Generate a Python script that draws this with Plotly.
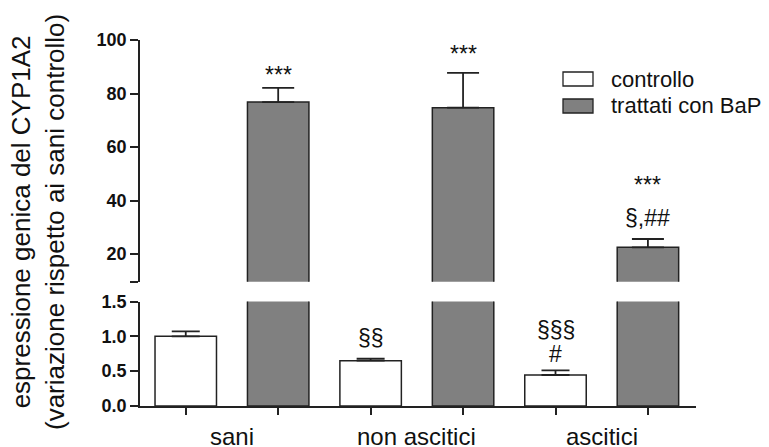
import plotly.graph_objects as go

# ---- data ----
categories = ["sani", "non ascitici", "ascitici"]
series_names = ["controllo", "trattati con BaP"]
controllo = [1.0, 0.65, 0.445]
controllo_err = [0.07, 0.03, 0.065]
trattati = [76.8, 74.7, 22.5]
trattati_err = [5.3, 13.0, 3.1]
lower_ticks = [0.0, 0.5, 1.0, 1.5]
upper_ticks = [20, 40, 60, 80, 100]
# significance marks: (group index, series index, text, value on axis)
marks_upper = [(0, 1, "***", 86.9), (1, 1, "***", 94.8), (2, 1, "***", 45.8), (2, 1, "§,##", 33.5)]
marks_lower = [(1, 0, "§§", 0.98), (2, 0, "§§§", 1.09), (2, 0, "#", 0.75)]

FONT = "Liberation Sans, Arial, sans-serif"
LINE = "#222222"
GRAY = "#808080"
OFF = 8  # page body margin
W, H = 769 - OFF, 447 - OFF
# target positions in page pixels
P_LEFT, P_RIGHT, P_TOP, P_BOT = 140, 696, 40, 406
ML, MR, MT = P_LEFT - OFF, 769 - P_RIGHT, P_TOP - OFF
MB = H - (P_BOT - OFF)
PW, PH = W - ML - MR, H - MT - MB

def px_x(p):
    return (p - OFF - ML) / PW

def px_y(p):
    return (P_BOT - p) / PH

x_ctrl = [2 * i for i in range(len(categories))]
x_trat = [2 * i + 1 for i in range(len(categories))]
BW = 0.665

fig = go.Figure()
fig.add_trace(go.Bar(x=x_ctrl, y=controllo, width=BW, xaxis="x", yaxis="y",
                     marker=dict(color="white", line=dict(color=LINE, width=1.5)),
                     error_y=dict(type="data", array=controllo_err, arrayminus=[0] * 3, symmetric=False,
                                  color=LINE, thickness=1.8, width=14),
                     name=series_names[0], showlegend=False))
fig.add_trace(go.Bar(x=x_trat, y=trattati, width=BW, xaxis="x", yaxis="y",
                     marker=dict(color=GRAY, line=dict(color=LINE, width=1.5)),
                     name=series_names[1], showlegend=False))
fig.add_trace(go.Bar(x=x_trat, y=trattati, width=BW, xaxis="x", yaxis="y2",
                     marker=dict(color=GRAY, line=dict(color=LINE, width=1.5)),
                     error_y=dict(type="data", array=trattati_err, arrayminus=[0] * 3, symmetric=False,
                                  color=LINE, thickness=1.8, width=16),
                     name=series_names[1], showlegend=False))

lower_top_px, upper_bot_px = 301.5, 281.7
upper_min = 100 - (upper_bot_px - P_TOP) / ((254 - P_TOP) / 80)

axis_common = dict(showline=True, linecolor=LINE, linewidth=1.5, ticks="outside",
                   tickcolor=LINE, tickwidth=1.5, ticklen=8, showgrid=False, zeroline=False,
                   tickfont=dict(family=FONT, size=18, color="#111", weight="bold"))

fig.update_layout(
    width=W, height=H, margin=dict(l=ML, r=MR, t=MT, b=MB),
    paper_bgcolor="white", plot_bgcolor="white",
    barmode="overlay", showlegend=False,
    xaxis=dict(range=[-0.495, 5.52], tickvals=x_ctrl + x_trat, showticklabels=False,
               showline=True, linecolor=LINE, linewidth=1.5, ticks="outside", tickcolor=LINE,
               tickwidth=1.5, ticklen=7, showgrid=False, zeroline=False, anchor="y"),
    yaxis=dict(domain=[0, px_y(lower_top_px)], range=[0, 1.5], tickvals=lower_ticks,
               ticktext=[f"{v:.1f}" for v in lower_ticks], anchor="x", **axis_common),
    yaxis2=dict(domain=[px_y(upper_bot_px), 1], range=[upper_min, 100],
                tickvals=[upper_min + 0.05] + upper_ticks,
                ticktext=[""] + [str(v) for v in upper_ticks], anchor="x", **axis_common),
)

ann = []
for gi, si, txt, val in marks_upper:
    ann.append(dict(x=2 * gi + si, y=val, xref="x", yref="y2", text=txt, showarrow=False,
                    font=dict(family=FONT, size=23, color="#111")))
for gi, si, txt, val in marks_lower:
    ann.append(dict(x=2 * gi + si, y=val, xref="x", yref="y", text=txt, showarrow=False,
                    font=dict(family=FONT, size=23, color="#111")))
for i, c in enumerate(categories):
    ann.append(dict(x=2 * i + 0.5, y=0, xref="x", yref="paper", yanchor="middle", yshift=-30,
                    text=c, showarrow=False, font=dict(family=FONT, size=24, color="#111")))
ann.append(dict(x=px_x(38), y=px_y(222), xref="paper", yref="paper", textangle=-90,
                xanchor="center", yanchor="middle",
                text="espressione genica del CYP1A2<br>(variazione rispetto ai sani controllo)",
                showarrow=False, font=dict(family=FONT, size=26, color="#111")))
shapes = []
leg_fills = ["white", GRAY]
leg_y = [79, 106]
for name, fill, cy in zip(series_names, leg_fills, leg_y):
    shapes.append(dict(type="rect", xref="paper", yref="paper",
                       x0=px_x(563), x1=px_x(593), y0=px_y(cy - 7), y1=px_y(cy + 7),
                       fillcolor=fill, line=dict(color=LINE, width=1.3)))
    ann.append(dict(x=px_x(609), y=px_y(cy), xref="paper", yref="paper", xanchor="left",
                    yanchor="middle", text=name, showarrow=False,
                    font=dict(family=FONT, size=22, color="#111")))

fig.update_layout(annotations=ann, shapes=shapes)
fig.write_html("out.html")
